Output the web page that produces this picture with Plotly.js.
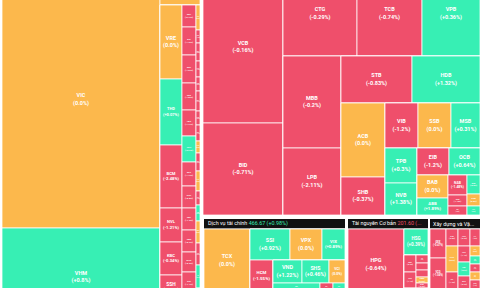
<!DOCTYPE html>
<html><head><meta charset="utf-8">
<script src="https://cdn.plot.ly/plotly-3.0.1.min.js"></script>
<style>
html,body{margin:0;padding:0;background:#fff;width:480px;height:288px;overflow:hidden;position:relative}
#chart{position:absolute;left:0;top:-30px;width:480px;height:360px}
</style>
</head><body><div id="chart"></div>
<script>
// ---------- Bất động sản (Real estate) ----------
const reNames   = ['R','A','VIC','VHM','B','NLG','C','CB','VRE','THD','BCM','NVL','KBC','SSH','PDR',
  'CC','KDH','DIG','DXG','CEO','HDG','TCH','DXS','NTL','IDC','SZC','KHG','TIG','HQC','SCR',
  'CD','ITC','LDG','QCG','HPX','NBB','DRH','CRE','TDC','HAR','VRC','PTL','FIR','D2D','NVT','SJS','IJC','HDC','VPI'];
const reParents = ['','R','A','A','R','B','B','C','CB','CB','CB','CB','CB','CB','CB',
  'C','CC','CC','CC','CC','CC','CC','CC','CC','CC','CC','CC','CC','CC','CC',
  'C','CD','CD','CD','CD','CD','CD','CD','CD','CD','CD','CD','CD','CD','CD','CD','CD','CD','CD'];
const reValues  = [0,0,40600,15480,0,1360,0,0,1628,1452,1386,748,726,572,550,
  0,308,392,392,378,364,364,336,308,308,308,280,308,224,224,
  0,100,52,72,64,56,80,56,64,48,72,80,56,64,88,88,92,80,72];
const reChanges = [null,null,0,0.8,null,0,null,null,0,0.07,-2.48,-1.21,-0.34,-0.9,-1.3,
  null,-0.19,-1.45,-1.69,-1.55,-1.44,0.3,-1.19,-0.8,-1.3,-0.7,-0.9,-1.1,-0.6,-1.2,
  null,0,-1.2,-0.8,-1.5,-0.6,-2.1,-0.9,-1.1,0,-0.7,0,-1.3,0.5,0,-0.9,0.4,-0.5,0];

// ---------- Ngân hàng (Banks) ----------
const bkNames   = ['R','A','VCB','BID','B','RT','CTG','TCB','VPB','RB','CM','MBB','LPB','RC',
  'RS','STB','HDB','RD','CA','ACB','SHB','RE','RV','VIB','SSB','MSB','RF','CT','TPB','NVB',
  'RG','REI','EIB','OCB','RH','CBA','BAB','ABB','CX','NAB','VAB','BVB','CY','KLB','SGB','PGB'];
const bkParents = ['','R','A','A','R','B','RT','RT','RT','B','RB','CM','CM','RB',
  'RC','RS','RS','RC','RD','CA','CA','RD','RE','RV','RV','RV','RE','RF','CT','CT',
  'RF','RG','REI','REI','RG','RH','CBA','CBA','RH','CX','CX','CX','RH','CY','CY','CY'];
const bkValues  = [0,0,12160,7360,0,0,6290,5525,4930,0,0,5336,3886,0,
  0,3337,3196,0,0,3256,1672,0,0,1485,1485,1305,0,0,1120,1024,
  0,0,864,837,0,0,713,527,0,380,209,171,0,247,156,117];
const bkChanges = [null,null,-0.16,-0.71,null,null,-0.29,-0.74,0.36,null,null,-0.2,-2.11,null,
  null,-0.83,1.32,null,null,0,-0.37,null,null,-1.2,0,0.31,null,null,0.3,1.38,
  null,null,-1.2,0.64,null,null,0,1.89,null,-1.48,-1.12,-0.9,null,0.8,0,0.5];

// ---------- Dịch vụ tài chính (Financial services) ----------
const fsHeader = ['Dịch vụ tài chính', '466.67 (+0.98%)'];
const fsNames   = ['R','TCX','B','RS','SSI','VPX','VIX','RB','HCM','RC','RV','VND','SHS','VCI','RW','MBS','BSI','FTS'];
const fsParents = ['','R','R','B','RS','RS','RS','B','RB','RB','RC','RV','RV','RV','RC','RW','RW','RW'];
const fsValues  = [0,2898,0,0,1240,992,713,0,736,0,0,667,621,368,0,423,117,108];
const fsChanges = [null,0,null,null,0.92,0,0.89,null,-1.55,null,null,1.22,0.46,0,null,0.5,-0.4,0.3];

// ---------- Tài nguyên Cơ bản (Basic resources) ----------
const brHeader = ['Tài nguyên Cơ bản', '201.60 (...'];
const brNames   = ['R','HPG','B','HSG','RB','CX','NKG','TVN','TLH','CY','SMC','POM','VGS','HMC','KSB','TIS','DTL'];
const brParents = ['','R','R','B','B','RB','CX','CX','CX','RB','CY','CY','CY','CY','CY','CY','CY'];
const brValues  = [0,3976,0,624,0,0,204,192,144,0,96,84,84,72,60,84,60];
const brChanges = [null,-0.64,null,0.39,null,null,-0.9,-1.1,-0.7,null,-0.5,-1.3,-0.8,0,-0.6,-1.0,0];

// ---------- Xây dựng và Vật liệu (Construction & materials) ----------
const cnHeader = ['Xây dựng và Vậ...', ''];
const cnNames   = ['R','CA','GEX','VCG','CB','CTD','HHV','CII','CC','FCN','LCG','HBC','DPG','CD','PC1','HT1','BCC','VGC','C4G','CTR'];
const cnParents = ['','R','CA','CA','R','CB','CB','CB','R','CC','CC','CC','CC','R','CD','CD','CD','CD','CD','CD'];
const cnValues  = [0,0,464,512,0,204,312,216,0,204,192,168,168,0,170,100,80,80,80,100];
const cnChanges = [null,null,-0.47,-1.04,null,-0.8,0,-1.2,null,-0.9,-1.1,0.6,-0.7,null,-0.6,0,0.5,-0.4,0,-1.0];

// ---------- styling ----------
const RED = '#EF4F6B', GREEN = '#37EFB4', ORANGE = '#FCB84C', HEAD = '#111111';
const FONT = 'Roboto, "Noto Sans", sans-serif';
const W = 480, OFF = 30, HV = 360;   // the plot is taller than the window and cropped, like the reference
function col(c){ return c === null ? '#ffffff' : (c > 0 ? GREEN : (c < 0 ? RED : ORANGE)); }
function fmt(c){ return c === 0 ? '0.0' : (c > 0 ? '+' : '') + String(c); }
function fy(y){ return (HV - (y + OFF)) / HV; }
function px(x0,x1,y0,y1){ return {x:[x0/W, x1/W], y:[fy(y1), fy(y0)]}; }

function body(names, parents, values, changes, domain){
  return {
    type:'treemap', ids:names, labels:names, parents:parents, values:values,
    branchvalues:'remainder', sort:false,
    text: names.map((n,i)=> changes[i]===null ? '' : n + '<br>(' + fmt(changes[i]) + '%)'),
    textinfo:'text', textposition:'middle center',
    textfont:{family:FONT, size:5.5, color:'#ffffff', weight:'bold'},
    marker:{colors: changes.map(col), line:{width:1, color:'rgba(255,255,255,0.75)'},
            pad:{t:0,l:0,r:0,b:0}, depthfade:false},
    leaf:{opacity:1}, tiling:{packing:'slice-dice', pad:0},
    pathbar:{visible:false}, hoverinfo:'skip', domain:domain
  };
}
function headerBox(h, domain){
  return {
    type:'treemap', ids:['h'], labels:[h[0]], parents:[''], values:[1],
    text:[''], textinfo:'text',
    marker:{colors:[HEAD], line:{width:0}, pad:{t:0,l:0,r:0,b:0}},
    leaf:{opacity:1}, tiling:{pad:0}, pathbar:{visible:false}, hoverinfo:'skip', domain:domain
  };
}
function headerText(h, numColor, x0, yc){
  const txt = h[1] ? h[0] + ' <span style="color:' + numColor + '">' + h[1] + '</span>' : h[0];
  return {text:txt, xref:'paper', yref:'paper', x:x0/W, y:fy(yc), xanchor:'left', yanchor:'middle',
    showarrow:false, font:{family:FONT, size:5.4, color:'#ffffff'}};
}

const data = [
  body(reNames, reParents, reValues, reChanges, px(2,200,-29,326)),
  body(bkNames, bkParents, bkValues, bkChanges, px(203,480,-29,215)),
  headerBox(fsHeader, px(204,345,219,229)),
  body(fsNames, fsParents, fsValues, fsChanges, px(204,345,229,292)),
  headerBox(brHeader, px(348,428,219,229)),
  body(brNames, brParents, brValues, brChanges, px(348,428,229,300)),
  headerBox(cnHeader, px(430,480,219,229)),
  body(cnNames, cnParents, cnValues, cnChanges, px(430,480,229,290))
];
const layout = {width:W, height:HV, margin:{l:0,r:0,t:0,b:0}, paper_bgcolor:'#ffffff',
  showlegend:false, font:{family:FONT},
  annotations:[
    headerText(fsHeader, GREEN, 206, 224),
    headerText(brHeader, RED, 350, 224),
    headerText(cnHeader, GREEN, 431, 224)
  ]};
Plotly.newPlot('chart', data, layout, {staticPlot:true, displayModeBar:false});
</script></body></html>
